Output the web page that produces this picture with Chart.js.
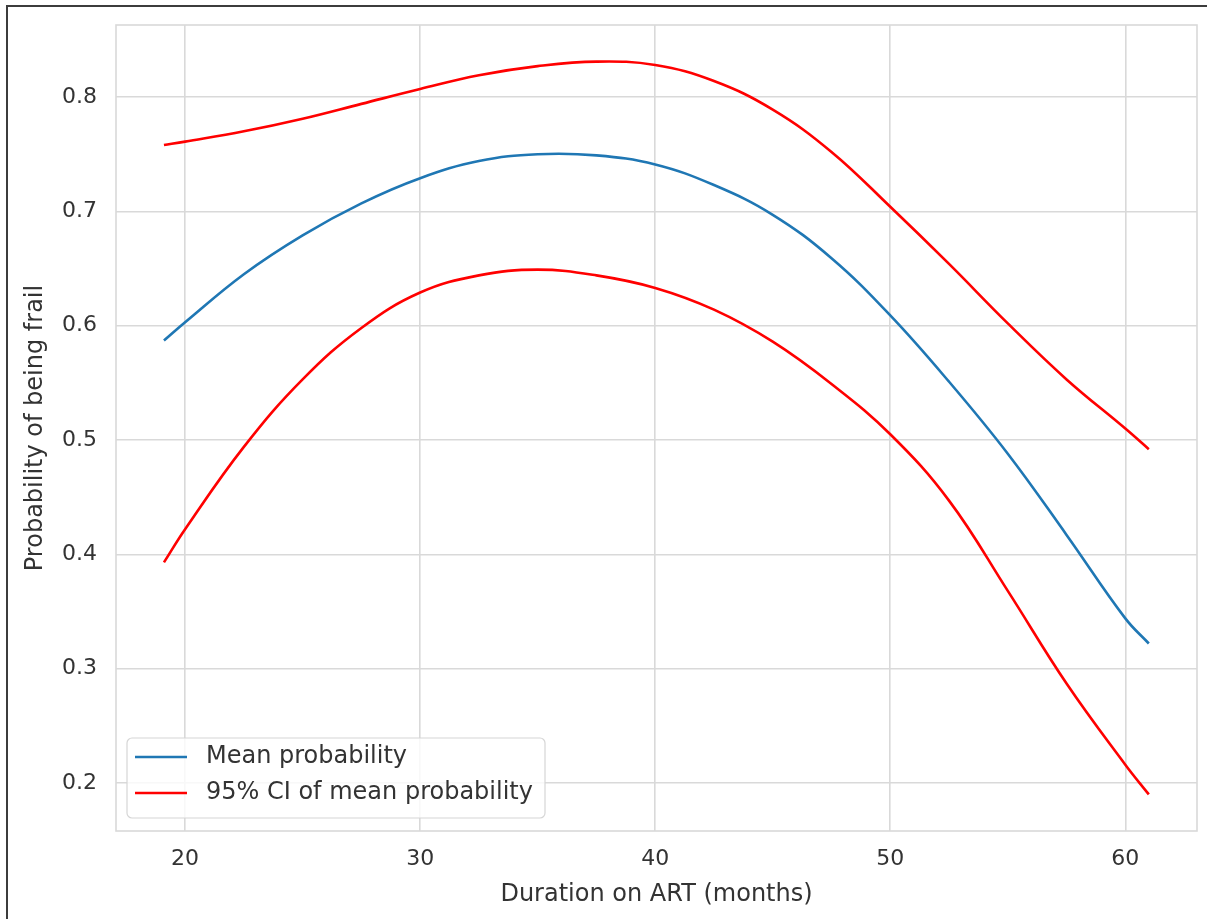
<!DOCTYPE html>
<html>
<head>
<meta charset="utf-8">
<script src="https://cdn.jsdelivr.net/npm/chart.js@4.4.0/dist/chart.umd.min.js"></script>
<style>
  html, body { margin: 0; padding: 0; background: #fff; overflow: hidden; }
  #rahmen { position: absolute; left: 6px; top: 5px; width: 1300px; height: 1000px; border: 2px solid #3c3c3c; box-sizing: border-box; }
  #chart { position: absolute; left: 0; top: 0; }
</style>
</head>
<body>
<div id="rahmen"></div>
<canvas id="chart" width="1207" height="919"></canvas>
<script>
// Dauer auf ART (Monate)
const monate = [19.1, 20, 22.5, 25, 27.5, 30, 32.5, 35, 37.5, 40, 42.5, 45, 47.5, 50, 52.5, 55, 57.5, 60, 61];
// mittlere Wahrscheinlichkeit
const mittel = [0.587, 0.603, 0.645, 0.679, 0.707, 0.729, 0.744, 0.750, 0.749, 0.741, 0.723, 0.697, 0.659, 0.609, 0.551, 0.488, 0.417, 0.344, 0.322];
// 95% KI obere / untere Grenze
const ciOben = [0.758, 0.761, 0.770, 0.781, 0.794, 0.807, 0.819, 0.827, 0.831, 0.828, 0.814, 0.789, 0.752, 0.704, 0.654, 0.602, 0.553, 0.510, 0.492];
const ciUnten = [0.393, 0.422, 0.494, 0.553, 0.598, 0.629, 0.644, 0.649, 0.644, 0.633, 0.614, 0.586, 0.549, 0.505, 0.447, 0.368, 0.287, 0.216, 0.190];

const xTicks = [20, 30, 40, 50, 60];
const yTicks = [0.2, 0.3, 0.4, 0.5, 0.6, 0.7, 0.8];

const textFarbe = '#333';
const gitterFarbe = '#d9d9d9';

function punkte(werte) {
  return monate.map((m, i) => ({ x: m, y: werte[i] }));
}

// Legende unten links im Plot, wie bei matplotlib
const legendeImPlot = {
  id: 'legendeImPlot',
  afterDatasetsDraw(chart) {
    const ctx = chart.ctx;
    const a = chart.chartArea;
    const eintraege = chart.data.datasets.filter(d => !d.ohneLegende);
    const x = a.left + 11, w = 418, h = 80;
    const y = a.bottom - 13 - h;
    ctx.save();
    // Rahmen des Plots
    ctx.strokeStyle = gitterFarbe;
    ctx.lineWidth = 1.6;
    ctx.strokeRect(a.left, a.top, a.right - a.left, a.bottom - a.top);

    ctx.beginPath();
    ctx.roundRect(x, y, w, h, 5);
    ctx.fillStyle = 'rgba(255,255,255,0.8)';
    ctx.fill();
    ctx.strokeStyle = '#d6d6d6';
    ctx.lineWidth = 1.2;
    ctx.stroke();

    ctx.font = '24px "DejaVu Sans"';
    ctx.textBaseline = 'middle';
    ctx.fillStyle = textFarbe;
    eintraege.forEach((d, i) => {
      const zy = y + 19 + i * 36;
      ctx.beginPath();
      ctx.moveTo(x + 8, zy);
      ctx.lineTo(x + 60, zy);
      ctx.strokeStyle = d.borderColor;
      ctx.lineWidth = d.borderWidth;
      ctx.stroke();
      ctx.fillText(d.label, x + 79, zy);
    });
    ctx.restore();
  }
};

const linie = { pointRadius: 0, borderWidth: 2.6, fill: false, tension: 0.4 };

new Chart(document.getElementById('chart').getContext('2d'), {
  type: 'line',
  data: {
    datasets: [
      Object.assign({ label: 'Mean probability', data: punkte(mittel), borderColor: '#1f77b4' }, linie),
      Object.assign({ label: '95% CI of mean probability', data: punkte(ciOben), borderColor: '#ff0000' }, linie),
      Object.assign({ label: '95% CI lower', data: punkte(ciUnten), borderColor: '#ff0000', ohneLegende: true }, linie)
    ]
  },
  options: {
    responsive: false,
    animation: false,
    layout: { padding: { left: 10, top: 25, right: 10, bottom: 0 } },
    plugins: {
      legend: { display: false },
      tooltip: { enabled: false }
    },
    scales: {
      x: {
        type: 'linear',
        min: 17.06,
        max: 63.05,
        afterBuildTicks: s => { s.ticks = xTicks.map(v => ({ value: v })); },
        afterFit: s => { s.height = 88; s.paddingLeft = 0; s.paddingRight = 0; },
        grid: { color: gitterFarbe, lineWidth: 1.6, drawTicks: false },
        border: { display: false },
        ticks: {
          color: textFarbe,
          font: { family: 'DejaVu Sans', size: 22 },
          padding: 15,
          maxRotation: 0,
          callback: v => String(v)
        },
        title: {
          display: true,
          text: 'Duration on ART (months)',
          color: textFarbe,
          font: { family: 'DejaVu Sans', size: 24 },
          padding: { top: 0, bottom: 10 }
        }
      },
      y: {
        type: 'linear',
        min: 0.158,
        max: 0.863,
        afterBuildTicks: s => { s.ticks = yTicks.map(v => ({ value: v })); },
        afterFit: s => { s.width = 106; s.paddingTop = 0; s.paddingBottom = 0; },
        grid: { color: gitterFarbe, lineWidth: 1.6, drawTicks: false },
        border: { display: false },
        ticks: {
          color: textFarbe,
          font: { family: 'DejaVu Sans', size: 22 },
          padding: 19,
          callback: v => v.toFixed(1)
        },
        title: {
          display: true,
          text: 'Probability of being frail',
          color: textFarbe,
          font: { family: 'DejaVu Sans', size: 24 },
          padding: { top: 11, bottom: 0 }
        }
      }
    }
  },
  plugins: [legendeImPlot]
});
</script>
</body>
</html>
